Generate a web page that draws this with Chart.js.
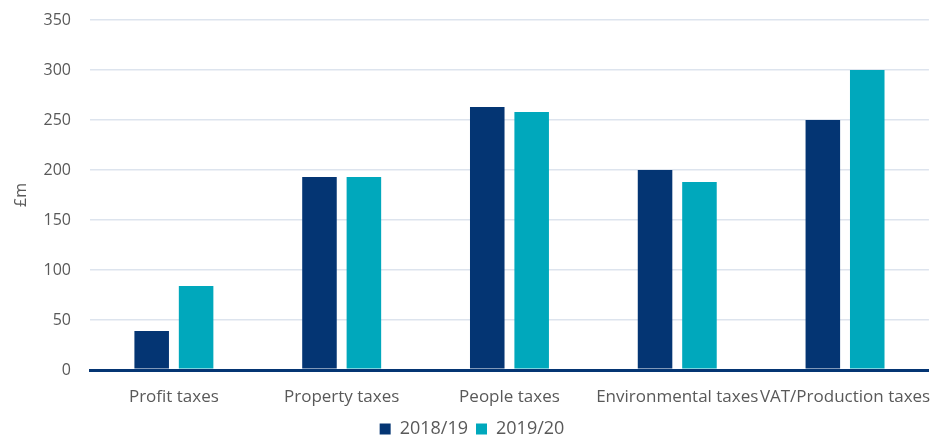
<!DOCTYPE html>
<html>
<head>
<meta charset="utf-8">
<script src="https://cdn.jsdelivr.net/npm/chart.js@4/dist/chart.umd.min.js"></script>
<style>
  html, body { margin: 0; padding: 0; background: #fff; }
  #wrap { width: 948px; height: 435px; }
</style>
</head>
<body>
<div id="wrap"><canvas id="taxChart"></canvas></div>
<script>
const CATEGORIES = ["Profit taxes", "Property taxes", "People taxes", "Environmental taxes", "VAT/Production taxes"];
const SERIES_NAMES = ["2018/19", "2019/20"];
const VALUES_2018 = [39, 193, 263, 200, 250];
const VALUES_2019 = [84, 193, 258, 188, 300];
const Y_TICKS = [0, 50, 100, 150, 200, 250, 300, 350];

const NAVY = "#043573";
const TEAL = "#00a8bc";
const TEXT = "#595959";
const GRID = "#dde4ee";
const FONT = "'Open Sans', 'Noto Sans', sans-serif";

Chart.defaults.font.family = FONT;
Chart.defaults.color = TEXT;

// legend sits closer to the axis labels than Chart.js allows by default
const compactLegend = {
  id: "compactLegend",
  beforeInit(chart) {
    const originalFit = chart.legend.fit;
    chart.legend.fit = function fit() {
      originalFit.call(this);
      this.height = 23;
    };
  },
};

new Chart(document.getElementById("taxChart"), {
  type: "bar",
  data: {
    labels: CATEGORIES,
    datasets: [
      { label: SERIES_NAMES[0], data: VALUES_2018, backgroundColor: NAVY },
      { label: SERIES_NAMES[1], data: VALUES_2019, backgroundColor: TEAL },
    ],
  },
  plugins: [compactLegend],
  options: {
    responsive: true,
    maintainAspectRatio: false,
    animation: false,
    categoryPercentage: 90 / 170,
    barPercentage: 35 / 45,
    layout: { padding: { top: 20, right: 8, left: 4, bottom: 0 } },
    plugins: {
      legend: {
        position: "bottom",
        labels: {
          color: TEXT,
          font: { family: FONT, size: 18 },
          boxWidth: 11,
          boxHeight: 11,
          padding: 8,
          useBorderRadius: false,
        },
      },
      tooltip: { enabled: false },
    },
    scales: {
      x: {
        afterFit: axis => { axis.height = 42; },
        grid: { display: false, drawTicks: false },
        border: { display: true, color: NAVY, width: 3 },
        ticks: { color: TEXT, font: { family: FONT, size: 17 }, padding: 17, maxRotation: 0, minRotation: 0, autoSkip: false },
      },
      y: {
        min: 0,
        max: 350,
        afterBuildTicks: axis => { axis.ticks = Y_TICKS.map(value => ({ value })); },
        afterFit: axis => { axis.width = 86; },
        grid: {
          color: ctx => (ctx.tick && ctx.tick.value === 0 ? NAVY : GRID),
          lineWidth: ctx => (ctx.tick && ctx.tick.value === 0 ? 3 : 1.5),
          drawTicks: true,
          tickLength: 10,
          tickColor: "transparent",
        },
        border: { display: false },
        ticks: { color: TEXT, font: { family: FONT, size: 16 }, padding: 9 },
        title: { display: true, text: "£m", color: TEXT, font: { family: FONT, size: 16 }, padding: { top: 8, bottom: 0 } },
      },
    },
  },
});
</script>
</body>
</html>
